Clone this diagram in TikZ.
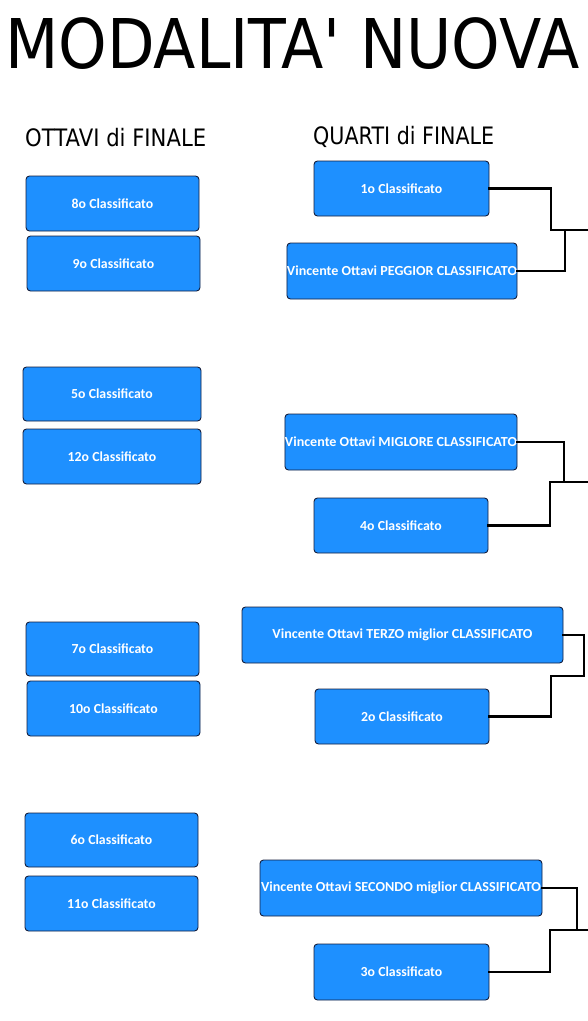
\documentclass[tikz,border=0pt]{standalone}
\usepackage{fontspec}
\usepackage{graphicx}
\setmainfont{DejaVu Sans}
\newfontfamily\boxfont{Carlito}
\definecolor{boxblue}{RGB}{30,144,255}
\definecolor{boxedge}{RGB}{20,30,60}
\newcommand{\fitw}[2]{\resizebox{#1}{\height}{#2}}
\tikzset{
  cbox/.style={draw=boxedge, line width=0.9pt, fill=boxblue, rounded corners=3.5pt,
    text=white, font=\boxfont\bfseries\fontsize{13.8}{15}\selectfont,
    inner sep=0pt, align=center},
  link/.style={draw=black, line width=2.6pt, line cap=rect},
  heading/.style={anchor=base west, inner sep=0pt}
}
\begin{document}
\begin{tikzpicture}[x=1pt,y=-1pt]
\useasboundingbox (0,0) rectangle (587,1021);
\fill[white] (0,0) rectangle (587,1021);
% titles
\node[heading] (title) at (5,68) {\fitw{575pt}{\fontsize{68.6}{70}\selectfont MODALITA\textquotesingle{} NUOVA}};
\node[heading] (ottavi) at (25,146) {\fitw{181pt}{\fontsize{24}{26}\selectfont OTTAVI di FINALE}};
\node[heading] (quarti) at (313,144) {\fitw{181pt}{\fontsize{24}{26}\selectfont QUARTI di FINALE}};
% ottavi
\node[cbox, minimum width=173pt, minimum height=55pt] (o8)  at (112.5,203.5) {8o Classificato};
\node[cbox, minimum width=173pt, minimum height=55pt] (o9)  at (113.5,263.5) {9o Classificato};
\node[cbox, minimum width=178pt, minimum height=54pt] (o5)  at (112,394)     {5o Classificato};
\node[cbox, minimum width=178pt, minimum height=55pt] (o12) at (112,456.5)   {12o Classificato};
\node[cbox, minimum width=173pt, minimum height=54pt] (o7)  at (112.5,649)   {7o Classificato};
\node[cbox, minimum width=173pt, minimum height=55pt] (o10) at (113.5,708.5) {10o Classificato};
\node[cbox, minimum width=173pt, minimum height=54pt] (o6)  at (111.5,840)   {6o Classificato};
\node[cbox, minimum width=173pt, minimum height=55pt] (o11) at (111.5,903.5) {11o Classificato};
% quarti
\node[cbox, minimum width=175pt, minimum height=55pt] (q1) at (401.5,188.5) {1o Classificato};
\node[cbox, minimum width=230pt, minimum height=56pt] (qP) at (402,271) {\fitw{230pt}{Vincente Ottavi PEGGIOR CLASSIFICATO}};
\node[cbox, minimum width=232pt, minimum height=56pt] (qM) at (401,442) {\fitw{232pt}{Vincente Ottavi MIGLORE CLASSIFICATO}};
\node[cbox, minimum width=174pt, minimum height=55pt] (q4) at (401,525.5) {4o Classificato};
\node[cbox, minimum width=321pt, minimum height=56pt] (qT) at (402.5,635) {\fitw{260pt}{Vincente Ottavi TERZO miglior CLASSIFICATO}};
\node[cbox, minimum width=174pt, minimum height=55pt] (q2) at (402,716.5) {2o Classificato};
\node[cbox, minimum width=282pt, minimum height=56pt] (qS) at (401,888) {\fitw{280pt}{Vincente Ottavi SECONDO miglior CLASSIFICATO}};
\node[cbox, minimum width=175pt, minimum height=56pt] (q3) at (401.5,972) {3o Classificato};
% connector junctions
\coordinate (a1) at (551,230); \coordinate (b1) at (565,230); \coordinate (e1) at (587,230);
\coordinate (a2) at (550,482); \coordinate (b2) at (564,482); \coordinate (e2) at (587,482);
\coordinate (a3) at (551,676); \coordinate (b3) at (584,676);
\coordinate (a4) at (550,930); \coordinate (b4) at (577,930); \coordinate (e4) at (587,930);
% connectors
\draw[link] (q1.east) -| (a1) -- (e1);
\draw[link] (qP.east) -| (b1);
\draw[link] (qM.east) -| (b2);
\draw[link] (q4.east) -| (a2) -- (e2);
\draw[link] (qT.east) -| (b3);
\draw[link] (q2.east) -| (a3) -- (b3);
\draw[link] (qS.east) -| (b4);
\draw[link] (q3.east) -| (a4) -- (e4);
\end{tikzpicture}
\end{document}
